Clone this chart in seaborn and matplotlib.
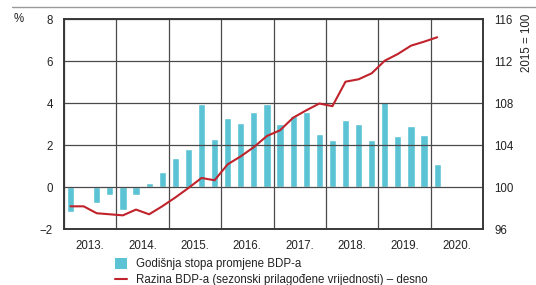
import numpy as np
import pandas as pd
import matplotlib

matplotlib.use("Agg")
import matplotlib.pyplot as plt
import seaborn as sns
from matplotlib.lines import Line2D
from matplotlib.patches import Patch
from matplotlib.ticker import FixedLocator

# -------------------------
# Data (quarterly, 2013 Q1 - 2020 Q1)
# -------------------------
years = [2013, 2014, 2015, 2016, 2017, 2018, 2019, 2020]
quarters = [f"{y}Q{q}" for y in years for q in range(1, 5)][:29]

# annual rate of change of GDP, %
growth = [-1.19, 0.05, -0.76, -0.36,
          -1.08, -0.36, 0.18, 0.73,
          1.40, 1.83, 3.95, 2.30,
          3.30, 3.07, 3.57, 3.97,
          3.02, 3.37, 3.57, 2.51,
          2.26, 3.18, 3.02, 2.22,
          4.05, 2.41, 2.90, 2.49,
          1.08]

# GDP level, seasonally adjusted, 2015 = 100 (right axis)
level = [98.16, 98.16, 97.5, 97.4,
         97.3, 97.85, 97.4, 98.16,
         99.0, 99.9, 100.86, 100.64,
         102.16, 102.92, 103.8, 104.86,
         105.4, 106.6, 107.3, 107.95,
         107.7, 110.03, 110.26, 110.83,
         112.03, 112.67, 113.46, 113.84,
         114.26]

year_labels = ["2013.", "2014.", "2015.", "2016.", "2017.", "2018.", "2019.", "2020."]
left_ticks = [-2, 0, 2, 4, 6, 8]
right_ticks = [96, 100, 104, 108, 112, 116]

bar_label = "Godišnja stopa promjene BDP-a"
line_label = "Razina BDP-a (sezonski prilagođene vrijednosti) – desno"

df = pd.DataFrame({"quarter": quarters, "growth": growth, "level": level})
df["pos"] = np.arange(len(df))

# -------------------------
# Style
# -------------------------
sns.set_style("white")
plt.rcParams["font.family"] = ["Liberation Sans", "DejaVu Sans"]
FS = 8.3
plt.rcParams["font.size"] = FS

BAR_COLOR = "#5bc3d3"
LINE_COLOR = "#c0232b"
GRID_COLOR = "#4a4a4a"
TEXT_COLOR = "#222222"

fig = plt.figure(figsize=(5.36, 2.85), dpi=100)
ax = fig.add_axes([64 / 536, 1 - 229 / 285, (483 - 64) / 536, (229 - 19) / 285])

sns.barplot(data=df, x="quarter", y="growth", color=BAR_COLOR, saturation=1,
            width=0.55, ax=ax, zorder=1)

ax2 = ax.twinx()
sns.lineplot(x=df["pos"], y=df["level"], color=LINE_COLOR, lw=1.5, ax=ax2, zorder=4)

# -------------------------
# Axes
# -------------------------
n_q = len(years) * 4
ax.set_xlim(-0.5, n_q - 0.5)
ax.set_ylim(-2, 8)
ax2.set_ylim(96, 116)

ax.set_yticks(left_ticks)
ax.set_yticklabels([str(t).replace("-", "\u2212") for t in left_ticks])
ax2.set_yticks(right_ticks)
ax2.set_yticklabels([str(t) for t in right_ticks])

ax.set_xticks([1.5 + 4 * i for i in range(len(years))])
ax.set_xticklabels(year_labels)
ax.xaxis.set_minor_locator(FixedLocator([-0.5 + 4 * i for i in range(len(years) + 1)]))

ax.set_xlabel("")
ax.set_ylabel("")
ax2.set_xlabel("")
ax2.set_ylabel("")

ax.set_axisbelow(False)
ax.grid(True, axis="y", which="major", color=GRID_COLOR, lw=0.9, zorder=2)
ax.grid(True, axis="x", which="minor", color=GRID_COLOR, lw=0.9, zorder=2)
ax.grid(False, axis="x", which="major")

for a in (ax, ax2):
    a.tick_params(length=0, pad=8, colors=TEXT_COLOR, labelsize=FS)
    for s in a.spines.values():
        s.set_color("#333333")
        s.set_linewidth(1.1)
ax.tick_params(axis="x", pad=8)
ax2.patch.set_visible(False)

# unit labels
fig.text(14 / 536, 1 - 19 / 285, "%", ha="left", va="center", fontsize=FS, color=TEXT_COLOR)
fig.text(527 / 536, 1 - 14 / 285, "2015 = 100", rotation=90, ha="center", va="top",
         fontsize=FS, color=TEXT_COLOR)

# thin rule at top
fig.add_artist(Line2D([12 / 536, 1], [1 - 7 / 285, 1 - 7 / 285], color="#9a9a9a", lw=1))

# legend
handles = [Patch(facecolor=BAR_COLOR, edgecolor="none"),
           Line2D([0], [0], color=LINE_COLOR, lw=1.5)]
fig.legend(handles, [bar_label, line_label], loc="upper left",
           bbox_to_anchor=(115 / 536, 1 - 258 / 285), frameon=False,
           fontsize=FS, handlelength=1.0, handleheight=1.1, handletextpad=0.8,
           labelspacing=0.3, borderpad=0, borderaxespad=0, labelcolor=TEXT_COLOR)

fig.savefig("out.png", dpi=100)
